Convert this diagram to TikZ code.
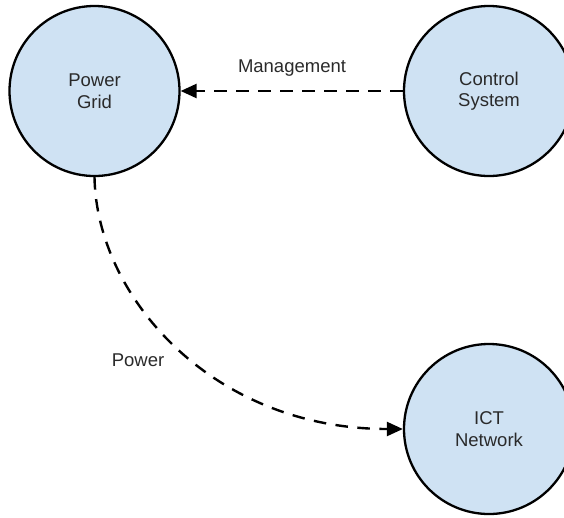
\documentclass[tikz,border=0pt]{standalone}
\usepackage{fontspec}
\setmainfont{Liberation Sans}
\usetikzlibrary{arrows.meta}
\definecolor{nodefill}{HTML}{CFE2F3}
\definecolor{labeltext}{HTML}{2A2A2A}
\tikzset{
  entity/.style={circle, draw=black, line width=2.3pt, fill=nodefill,
    minimum size=170pt, inner sep=0pt, align=center, text=labeltext,
    font=\fontsize{18.5}{21.5}\selectfont},
  flow/.style={line width=2.4pt, dash pattern=on 12.5pt off 9.5pt,
    -{Triangle[length=16pt,width=14pt]}},
  flowlabel/.style={text=labeltext, font=\fontsize{18.5}{21.5}\selectfont, inner sep=0pt}
}
\begin{document}
\begin{tikzpicture}[x=1pt,y=1pt]
  \useasboundingbox (0,0) rectangle (564,-517);
  \clip (0,0) rectangle (564,-517);
  \fill[white] (0,0) rectangle (564,-517);

  % the three subsystems
  \node[entity] (pg)  at (94.5,-91)  {Power\\Grid};
  \node[entity] (cs)  at (489,-91)   {Control\\System};
  \node[entity] (ict) at (489,-429)  {ICT\\Network};

  % dependencies between them
  \draw[flow] (cs.west) -- (pg.east);
  \draw[flow] (pg.south) .. controls +(2,-120) and +(-190,0) .. (ict.west);

  % labels on the connectors
  \node[flowlabel] (mgmt) at (292,-68) {Management};
  \node[flowlabel] (pow)  at (138,-360) {Power};
\end{tikzpicture}
\end{document}
